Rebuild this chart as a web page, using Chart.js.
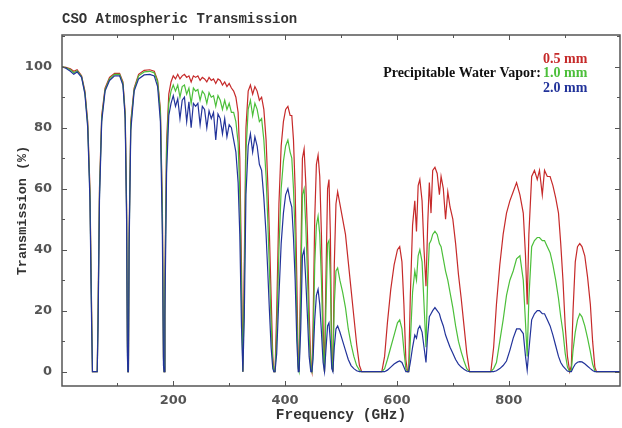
<!DOCTYPE html>
<html>
<head>
<meta charset="utf-8">
<title>CSO Atmospheric Transmission</title>
<script src="https://cdn.jsdelivr.net/npm/chart.js@4.4.0/dist/chart.umd.min.js"></script>
<style>
  html, body { margin: 0; padding: 0; background: #fff; }
  #chart { display: block; }
</style>
</head>
<body>
<canvas id="chart" width="622" height="428"></canvas>
<script>
// frequency (GHz), shared by all three curves
var freq = [
  0, 8, 16, 22, 28, 36, 42, 47, 51, 54, 55.5, 64, 65.5, 68, 72, 78, 86, 95, 104, 110,
  114, 116.5, 118, 118.8, 119.8, 121, 124, 130, 138, 148, 158, 166, 172, 177, 180.5, 182.5, 183.5, 185, 188, 192, 196,
  200, 204, 208, 212, 216, 220, 224, 228, 232, 236, 240, 244, 248, 252, 256, 260, 264, 268, 272, 276,
  280, 284, 288, 292, 296, 300, 304, 308, 312, 316, 319, 322, 324.5,
  327, 330, 334, 338, 342, 346, 350, 354, 358, 362, 366, 369, 372, 375, 378, 380, 382, 385, 389, 393,
  397, 401, 405, 409, 412, 415, 418, 421, 423.5, 425, 428, 431, 434, 437, 440, 443, 446, 448,
  450, 453, 456, 459, 462, 465, 468, 470.5, 473, 476, 478.5, 481, 483.5, 485.5, 488, 491, 494, 498, 503, 508,
  513, 518, 523, 528, 533, 537, 573,
  578, 583, 589, 595, 601, 605, 609, 612.5, 616, 619, 621,
  624, 628, 632, 635, 638, 641, 645, 648.5, 652, 655, 658, 661, 664, 668, 672, 676, 679, 683, 687, 691,
  695, 700, 705, 710, 715, 720, 725, 730, 768,
  773, 778, 784, 790, 796, 802, 808, 814, 820, 826, 830, 833, 836, 841, 846, 851, 855, 860, 864, 869,
  874, 879, 884, 889, 893, 897, 901, 905, 909,
  912, 915, 919, 923, 927, 931, 936, 941, 946, 950, 954, 957, 1000
];

// transmission (%) for 0.5 mm precipitable water vapor
var pwv05 = [
  100, 99.8, 99.3, 98.5, 99, 97, 92, 82, 60, 20, 0, 0, 20, 60, 84, 93, 96.5, 97.8, 97.8, 95,
  85, 55, 10, 0, 0, 45, 82, 93, 97.5, 98.8, 99, 98.5, 95.5, 86, 55, 5, 0, 30, 75, 91, 95,
  97, 96, 97.5, 96, 97, 97.5, 96.5, 97, 95, 97, 96.5, 97, 95.5, 96.5, 96, 95, 96.5, 95.5, 96, 94.5,
  96, 95.5, 94, 95, 93.5, 94.5, 93, 92, 90, 85, 70, 35, 0,
  35, 80, 92, 94, 91, 93.5, 92, 89, 90, 86, 76, 62, 45, 25, 5, 0, 0, 20, 55, 74,
  82, 86, 87, 84, 84, 76, 60, 30, 2, 0, 35, 70, 73, 62, 45, 20, 2, 0,
  15, 50, 68, 71, 64, 45, 15, 0, 30, 60, 63, 45, 5, 0, 35, 55, 59, 55, 50, 45,
  36, 27, 18, 9, 2, 0, 0,
  5, 16, 27, 35, 40, 41, 36, 22, 4, 0, 0,
  25, 48, 56, 46, 61, 63, 56, 40, 28, 48, 62, 52, 66, 67, 65, 58, 64, 60, 50, 59,
  54, 50, 42, 32, 24, 15, 6, 0, 0,
  8, 22, 35, 45, 52, 56, 59, 62, 58, 52, 38, 22, 45, 64, 66, 63, 66, 58, 66, 64,
  64, 61, 57, 52, 42, 30, 15, 5, 0,
  2, 20, 36, 41, 42, 41, 38, 31, 22, 10, 1.5, 0, 0
];

// 1.0 mm
var pwv10 = [
  100, 99.7, 99, 98, 98.7, 96.8, 91.5, 81, 58, 18, 0, 0, 18, 58, 83, 92.5, 96, 97.5, 97.5, 94.5,
  84, 53, 8, 0, 0, 42, 81, 92.5, 97, 98.3, 98.5, 98, 95, 85, 52, 4, 0, 25, 72, 88, 92,
  94, 92, 94, 90, 93.5, 94, 91, 93, 88, 93, 92, 92.5, 89, 92, 91, 88, 91.5, 90, 90.5, 87,
  90.5, 89, 86, 89, 86, 88, 85, 85, 82, 75, 58, 25, 0,
  28, 72, 86, 89, 84, 88, 86, 82, 83, 76, 64, 50, 33, 16, 3, 0, 0, 12, 40, 60,
  69, 74, 76, 72, 70, 60, 44, 18, 1, 0, 25, 58, 60, 48, 32, 12, 1, 0,
  8, 35, 48, 51, 45, 30, 8, 0, 20, 42, 43, 30, 3, 0, 22, 33, 34, 30, 26, 21,
  14, 9, 5, 2, 0.5, 0, 0,
  1, 4, 8, 12, 16, 17, 14, 7, 1, 0, 0,
  10, 26, 33, 30, 38, 40, 36, 22, 8, 30, 42, 43, 45, 46, 45, 42, 41, 37, 33, 30,
  26, 21, 15, 10, 6.5, 3.5, 1, 0, 0,
  1, 3, 10, 17, 25, 30, 33, 37, 38, 30, 16, 5, 24, 41, 43, 44, 44, 43, 43, 41,
  39, 35, 30, 24, 18, 13, 6, 1.5, 0,
  0.5, 7, 13, 17, 19, 18, 15, 11, 6.5, 2.5, 0.3, 0, 0
];

// 2.0 mm
var pwv20 = [
  100, 99.5, 98.5, 97.5, 98.3, 96.5, 91, 80, 56, 15, 0, 0, 15, 56, 82, 92, 95.5, 97, 97, 94,
  83, 50, 5, 0, 0, 40, 79, 92, 96, 97.3, 97.5, 97, 93.5, 82, 45, 2, 0, 18, 65, 84, 88,
  90.5, 87, 89.5, 83, 89, 90, 82, 88.5, 80, 88, 87, 88, 81, 87, 86, 80, 85.5, 83, 85, 76,
  84.5, 83, 78, 83, 77, 81, 80, 76, 72, 62, 45, 15, 0,
  18, 58, 74, 78, 72, 77, 74, 68, 66, 57, 45, 33, 20, 8, 1, 0, 0, 6, 25, 42,
  52, 58, 60, 56, 54, 44, 30, 10, 0, 0, 14, 38, 40, 30, 18, 5, 0, 0,
  4, 17, 25, 27, 22, 13, 3, 0, 7, 15, 16, 10, 1, 0, 8, 14, 15, 13, 10, 7,
  4, 2, 1, 0.3, 0, 0, 0,
  0, 0.5, 1.5, 2.5, 3.2, 3.5, 3, 1.5, 0, 0, 0,
  3, 8, 12, 11, 14, 15, 13, 8, 3, 12, 18, 19, 20, 21, 20, 19, 17, 15, 12, 10,
  8, 6, 4, 2.5, 1.5, 0.8, 0.2, 0, 0,
  0, 0.3, 1, 2, 3.5, 7, 11, 14, 14, 12.5, 5, 0.5, 7, 17, 19, 20, 20, 19, 19, 17,
  15, 12, 8.5, 5, 3, 1.8, 1, 0.2, 0,
  0, 1.2, 2.5, 3.1, 3.3, 3.2, 2.6, 1.8, 1, 0.4, 0, 0, 0
];

var xTicks = [200, 400, 600, 800];
var yTicks = [0, 20, 40, 60, 80, 100];
var seriesLabels = ['0.5 mm', '1.0 mm', '2.0 mm'];
var seriesColors = ['#c62a2a', '#4cbf3a', '#22339a'];

function toPoints(vals) {
  return freq.map(function(f, i) { return { x: f, y: vals[i] }; });
}

// box, inward tick marks, title and the water vapor key
var framePlugin = {
  id: 'frame',
  afterDraw: function(chart) {
    var ctx = chart.ctx;
    var a = chart.chartArea;
    var xs = chart.scales.x;
    var ys = chart.scales.y;
    ctx.save();
    ctx.strokeStyle = '#555';
    ctx.lineWidth = 1;
    var v, p, len;
    ctx.beginPath();
    for (v = 100; v < 1000; v += 100) {
      p = Math.round(xs.getPixelForValue(v)) + 0.5;
      len = (v % 200 === 0) ? 5 : 3;
      ctx.moveTo(p, a.bottom); ctx.lineTo(p, a.bottom - len);
      ctx.moveTo(p, a.top); ctx.lineTo(p, a.top + len);
    }
    for (v = 0; v <= 110; v += 10) {
      p = Math.round(ys.getPixelForValue(v)) + 0.5;
      len = (v % 20 === 0) ? 5 : 3;
      ctx.moveTo(a.left, p); ctx.lineTo(a.left + len, p);
      ctx.moveTo(a.right, p); ctx.lineTo(a.right - len, p);
    }
    ctx.stroke();
    ctx.lineWidth = 1.5;
    ctx.strokeRect(a.left, a.top, a.right - a.left, a.bottom - a.top);

    ctx.fillStyle = '#333';
    ctx.font = 'bold 14px "Liberation Mono"';
    ctx.textAlign = 'left';
    ctx.textBaseline = 'alphabetic';
    ctx.fillText('CSO Atmospheric Transmission', a.left, 23);

    ctx.font = 'bold 14px "Liberation Serif"';
    ctx.textAlign = 'right';
    ctx.fillStyle = '#111';
    ctx.fillText('Precipitable Water Vapor:', 541, 76.5);
    ctx.textAlign = 'left';
    var rows = [63, 77, 91.5];
    for (var i = 0; i < seriesLabels.length; i++) {
      ctx.fillStyle = seriesColors[i];
      ctx.fillText(seriesLabels[i], 543, rows[i]);
    }
    ctx.restore();
  }
};

var ctx = document.getElementById('chart').getContext('2d');
var chart = new Chart(ctx, {
  type: 'line',
  data: {
    datasets: [
      { label: seriesLabels[0], data: toPoints(pwv05), borderColor: seriesColors[0], order: 3 },
      { label: seriesLabels[1], data: toPoints(pwv10), borderColor: seriesColors[1], order: 2 },
      { label: seriesLabels[2], data: toPoints(pwv20), borderColor: seriesColors[2], order: 1 }
    ]
  },
  options: {
    responsive: false,
    animation: false,
    parsing: false,
    elements: {
      line: { borderWidth: 1.2, tension: 0, fill: false },
      point: { radius: 0 }
    },
    layout: { padding: { top: 35, right: 2, left: 0, bottom: 0 } },
    plugins: {
      legend: { display: false },
      tooltip: { enabled: false }
    },
    scales: {
      x: {
        type: 'linear',
        min: 1,
        max: 999,
        grid: { display: false, drawTicks: false },
        border: { display: false },
        afterBuildTicks: function(s) { s.ticks = xTicks.map(function(v) { return { value: v }; }); },
        afterFit: function(s) { s.height = 42; },
        ticks: {
          font: { family: 'DejaVu Sans', size: 13, weight: 'bold' },
          color: '#555',
          padding: 7,
          maxRotation: 0,
          autoSkip: false
        },
        title: {
          display: true,
          text: 'Frequency (GHz)',
          font: { family: 'Liberation Mono', size: 14.5, weight: 'bold' },
          color: '#333',
          padding: { top: 0, bottom: 4 }
        }
      },
      y: {
        min: -4.7,
        max: 110.4,
        grid: { display: false, drawTicks: false },
        border: { display: false },
        afterBuildTicks: function(s) { s.ticks = yTicks.map(function(v) { return { value: v }; }); },
        afterFit: function(s) { s.width = 62; },
        ticks: {
          font: { family: 'DejaVu Sans', size: 13, weight: 'bold' },
          color: '#555',
          padding: 10
        },
        title: {
          display: true,
          text: 'Transmission (%)',
          font: { family: 'Liberation Mono', size: 13.5, weight: 'bold' },
          color: '#333',
          padding: { top: 14, bottom: 0 }
        }
      }
    }
  },
  plugins: [framePlugin]
});
</script>
</body>
</html>
